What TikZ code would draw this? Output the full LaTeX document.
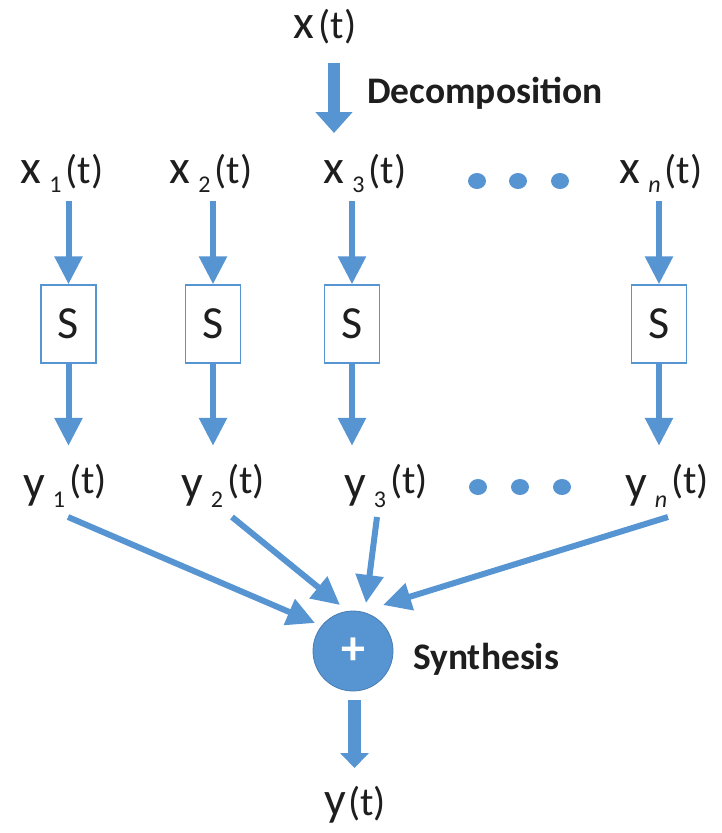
\documentclass[tikz,border=0pt]{standalone}
\usepackage{fontspec}
\setmainfont{Carlito}
\usetikzlibrary{arrows.meta,calc,shapes.geometric}
\definecolor{sblue}{RGB}{86,148,210}
\definecolor{txt}{RGB}{30,30,30}
\newcommand\sgl[3]{{\fontsize{48}{48}\selectfont #1}\hspace{8pt}\raisebox{-9pt}{\fontsize{24}{24}\selectfont #2}\hspace{4pt}\raisebox{#3}{\fontsize{40}{40}\selectfont (t)}}
\begin{document}
\begin{tikzpicture}[x=1pt,y=-1pt,
  lab/.style={anchor=base, inner sep=0pt, text=txt},
  sbox/.style={draw=sblue, line width=1.5pt, fill=white, minimum width=55pt, minimum height=78pt, inner sep=0pt, font=\fontsize{46}{46}\selectfont, text=txt},
  arr/.style={draw=sblue, line width=6pt, -{Triangle[width=27pt,length=28pt]}},
  conv/.style={draw=sblue, line width=6pt, -{Triangle[width=27pt,length=28pt]}},
  dotn/.style={ellipse, fill=sblue, minimum width=18pt, minimum height=16pt, inner sep=0pt},
  bold/.style={inner sep=0pt, text=txt, font=\bfseries\fontsize{37.5}{37.5}\selectfont}]
\useasboundingbox (0,0) rectangle (722,833);

% input
\node[lab] (xt) at (325,38) {{\fontsize{48}{48}\selectfont x}\hspace{4pt}{\fontsize{40}{40}\selectfont (t)}};
\coordinate (d0) at (334,63);
\coordinate (d1) at (334,133);
\draw[sblue, line width=12pt, -{Triangle[width=36pt,length=21pt]}] (d0) -- (d1);
\node[bold, anchor=west] (dec) at (367,93) {Decomposition};

% x row
\node[lab] (x1) at (62,183) {\sgl{x}{1}{0pt}};
\node[lab] (x2) at (211,183) {\sgl{x}{2}{0pt}};
\node[lab] (x3) at (365,183) {\sgl{x}{3}{0pt}};
\node[lab] (xn) at (661,183) {\sgl{x}{\textit{n}}{0pt}};
\node[dotn] (da1) at (477,181) {};
\node[dotn] (da2) at (518,181) {};
\node[dotn] (da3) at (560,181) {};

% boxes
\node[sbox] (b1) at (68.5,324) {S};
\node[sbox] (b2) at (213,324) {S};
\node[sbox] (b3) at (352,324) {S};
\node[sbox] (bn) at (659,324) {S};

\foreach \b in {b1,b2,b3,bn}{
  \draw[arr] ([yshift=83pt]\b.north) -- (\b.north);
  \draw[arr] (\b.south) -- ++(0,82);
}

% y row
\node[lab] (y1) at (65,498) {\sgl{y}{1}{5pt}};
\node[lab] (y2) at (223,498) {\sgl{y}{2}{5pt}};
\node[lab] (y3) at (386,498) {\sgl{y}{3}{5pt}};
\node[lab] (yn) at (667,498) {\sgl{y}{\textit{n}}{5pt}};
\node[dotn] (db1) at (478,487) {};
\node[dotn] (db2) at (520,487) {};
\node[dotn] (db3) at (562,487) {};

% sum
\node[circle, fill=sblue, draw=sblue!85!black, line width=0.8pt, minimum size=80pt, inner sep=0pt, text=white, font=\bfseries\fontsize{48}{48}\selectfont] (sum) at (353,651) {+};
\node[bold, anchor=west] (syn) at (413,659) {Synthesis};

\draw[conv] ($(y1.base)+(3,19)$) -- ($(sum.center)+(-38,-28)$);
\draw[conv] ($(y2.base)+(9,19)$) -- ($(sum.center)+(-13,-46)$);
\draw[conv] ($(y3.base)+(-9,19)$) -- ($(sum.center)+(13,-48)$);
\draw[conv] ($(yn.base)+(1,19)$) -- ($(sum.center)+(30,-46)$);

% output
\coordinate (e0) at ($(sum.center)+(1.5,49)$);
\coordinate (e1) at ($(sum.center)+(1.5,117)$);
\draw[sblue, line width=13pt, -{Triangle[width=28pt,length=15pt]}] (e0) -- (e1);
\node[lab] (yt) at (355,815) {{\fontsize{48}{48}\selectfont y}\hspace{2pt}{\fontsize{40}{40}\selectfont (t)}};
\end{tikzpicture}
\end{document}
